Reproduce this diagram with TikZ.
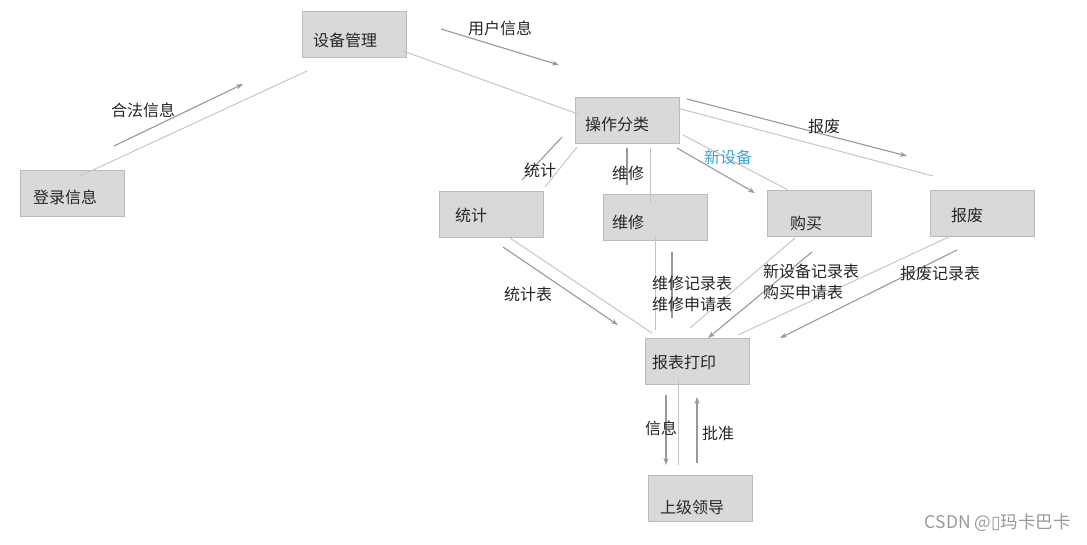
\documentclass[tikz,border=0pt]{standalone}
\usepackage{fontspec}
\setmainfont{Noto Sans CJK SC}
\newfontfamily\symfont{DejaVu Sans}
\usetikzlibrary{arrows.meta}

\definecolor{boxfill}{HTML}{D9D9D9}
\definecolor{boxline}{HTML}{BBBBBB}
\definecolor{linkgray}{HTML}{C6C6C6}
\definecolor{flowgray}{HTML}{999999}
\definecolor{newblue}{HTML}{3AA6D8}

\tikzset{
  box/.style={draw=boxline, fill=boxfill, line width=0.8pt, minimum width=104pt, minimum height=46pt, inner sep=0pt},
  boxtext/.style={font=\fontsize{16}{18}\selectfont, text=black!85, inner sep=0pt},
  link/.style={draw=linkgray, line width=1pt},
  flowline/.style={draw=flowgray, line width=1.1pt},
  flow/.style={flowline, -{Stealth[length=7pt,width=5pt]}},
  lbl/.style={font=\fontsize{16}{21}\selectfont, text=black!85, inner sep=0pt},
}

\begin{document}
\begin{tikzpicture}[x=1pt, y=-1pt]
    \useasboundingbox (0,0) rectangle (1087,544);

    % Nodi
    \node[box, label={[boxtext, name=devtxt, xshift=-9pt, yshift=-6pt]center:设备管理}] (dev) at (354,34) {};
    \node[box, label={[boxtext, name=logintxt, xshift=-7pt, yshift=-4pt]center:登录信息}] (login) at (72,193) {};
    \node[box, label={[boxtext, name=optxt, xshift=-10pt, yshift=-4pt]center:操作分类}] (op) at (627,120) {};
    \node[box, label={[boxtext, name=stattxt, xshift=-20pt, yshift=-1pt]center:统计}] (stat) at (491,214) {};
    \node[box, label={[boxtext, name=reptxt, xshift=-27pt, yshift=-5pt]center:维修}] (rep) at (655,217) {};
    \node[box, label={[boxtext, name=buytxt, xshift=-13pt, yshift=-10pt]center:购买}] (buy) at (819,213) {};
    \node[box, label={[boxtext, name=scraptxt, xshift=-15pt, yshift=-2pt]center:报废}] (scrap) at (982,213) {};
    \node[box, label={[boxtext, name=printtxt, xshift=-13pt, yshift=-1pt]center:报表打印}] (print) at (697,361) {};
    \node[box, label={[boxtext, name=bosstxt, xshift=-8pt, yshift=-9pt]center:上级领导}] (boss) at (700,498) {};

    % Collegamenti
    \draw[link] ([shift={(8,-17)}]login.center) -- ([shift={(-47,37)}]dev.center);
    \draw[link] ([shift={(49,17)}]dev.center) -- ([shift={(-49,-6)}]op.center);
    \draw[link] ([shift={(-50,27)}]op.center) -- ([shift={(54,-27)}]stat.center);
    \draw[link] ([shift={(23,28)}]op.center) -- ([shift={(-5,-14)}]rep.center);
    \draw[link] ([shift={(56,15)}]op.center) -- ([shift={(-31,-23)}]buy.center);
    \draw[link] ([shift={(50,-12)}]op.center) -- ([shift={(-49,-37)}]scrap.center);
    \draw[link] ([shift={(19,24)}]stat.center) -- ([shift={(-45,-28)}]print.center);
    \draw[link] ([shift={(0,18)}]rep.center) -- ([shift={(-42,-31)}]print.center);
    \draw[link] ([shift={(-24,25)}]buy.center) -- ([shift={(-7,-33)}]print.center);
    \draw[link] ([shift={(-29,22)}]scrap.center) -- ([shift={(41,-26)}]print.center);
    \draw[link] ([shift={(-19,17)}]print.center) -- ([shift={(-22,-33)}]boss.center);

    % Frecce
    \draw[flow] ([shift={(42,-47)}]login.center) -- ([shift={(-111,50)}]dev.center);
    \draw[flow] ([shift={(87,-5)}]dev.center) -- ([shift={(-68,-55)}]op.center);
    \draw[flowline] ([shift={(-65,17)}]op.center) -- ([shift={(31,-34)}]stat.center);
    \draw[flowline] ([shift={(0,28)}]op.center) -- ([shift={(-28,-32)}]rep.center);
    \draw[flow] ([shift={(50,28)}]op.center) -- ([shift={(-64,-20)}]buy.center);
    \draw[flow] ([shift={(60,-21)}]op.center) -- ([shift={(-75,-57)}]scrap.center);
    \draw[flow] ([shift={(12,33)}]stat.center) -- ([shift={(-79,-36)}]print.center);
    \draw[flowline] ([shift={(17,35)}]rep.center) -- ([shift={(-25,-43)}]print.center);
    \draw[flow] ([shift={(-7,39)}]buy.center) -- ([shift={(11,-23)}]print.center);
    \draw[flow] ([shift={(-25,37)}]scrap.center) -- ([shift={(83,-23)}]print.center);
    \draw[flow] ([shift={(-31,34)}]print.center) -- ([shift={(-34,-33)}]boss.center);
    \draw[flow] ([shift={(-3,-35)}]boss.center) -- ([shift={(0,36)}]print.center);

    % Etichette
    \node[lbl] (legal) at (143,110) {合法信息};
    \node[lbl] (user) at (500,28) {用户信息};
    \node[lbl] (statlbl) at (540,170) {统计};
    \node[lbl] (replbl) at (628,173) {维修};
    \node[lbl, text=newblue] (newlbl) at (728,157) {新设备};
    \node[lbl] (scraplbl) at (824,126) {报废};
    \node[lbl] (statform) at (528,294) {统计表};
    \node[lbl, anchor=west, align=left] (repform) at (652,294) {维修记录表\\维修申请表};
    \node[lbl, anchor=west, align=left] (buyform) at (763,282) {新设备记录表\\购买申请表};
    \node[lbl] (scrapform) at (940,273) {报废记录表};
    \node[lbl] (info) at (661,428) {信息};
    \node[lbl] (approve) at (718,433) {批准};

    \node[font=\fontsize{17.5}{20}\selectfont, text=black!40, anchor=east, inner sep=0pt] (mark) at (1071,523) {CSDN @{\symfont ▯}玛卡巴卡};
\end{tikzpicture}
\end{document}
